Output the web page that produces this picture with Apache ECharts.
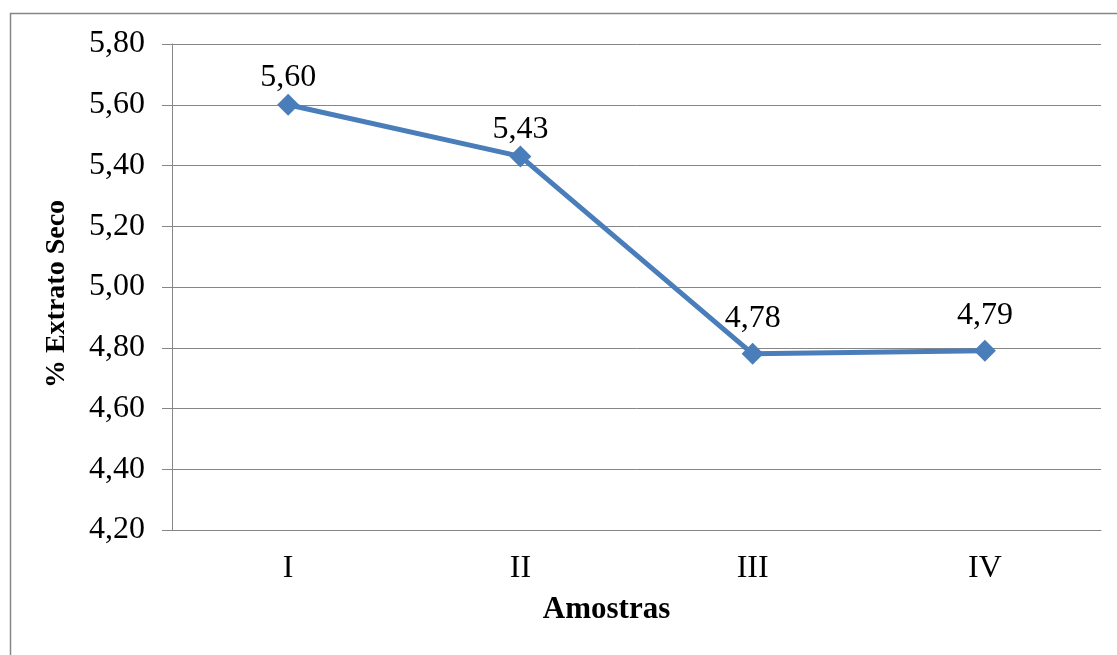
<!DOCTYPE html>
<html>
<head>
<meta charset="utf-8">
<script src="https://cdn.jsdelivr.net/npm/echarts@6/dist/echarts.min.js"></script>
<style>
  html, body { margin: 0; padding: 0; background: #fff; }
  #chart { width: 1117px; height: 655px; }
</style>
</head>
<body>
<div id="chart"></div>
<script>
// Samples and their dry extract percentage
const categories = ['I', 'II', 'III', 'IV'];
const extratoSeco = [5.60, 5.43, 4.78, 4.79];
const yMin = 4.2, yMax = 5.8, yStep = 0.2;

const fmt = v => Number(v).toFixed(2).replace('.', ',');
const serif = '"Liberation Serif", "Times New Roman", serif';
const lineBlue = '#4A7EBB';
const gray = '#868686';

// lower points get their labels lifted a little more above the line
const points = extratoSeco.map((v, i) => ({
  value: v,
  label: { distance: i >= 2 ? 8 : 0 }
}));

const chart = echarts.init(document.getElementById('chart'));
chart.setOption({
  animation: false,
  backgroundColor: '#fff',
  graphic: [{
    type: 'rect',
    shape: { x: 10.5, y: 13.5, width: 1200, height: 700 },
    style: { fill: 'none', stroke: gray, lineWidth: 1.5 },
    silent: true
  }],
  grid: { left: 172, right: 16, top: 44, bottom: 125 },
  xAxis: {
    type: 'category',
    data: categories,
    boundaryGap: true,
    name: 'Amostras',
    nameLocation: 'middle',
    nameGap: 64,
    nameTextStyle: {
      fontFamily: serif, fontSize: 31, fontWeight: 'bold', color: '#000',
      padding: [0, 60, 0, 0]
    },
    axisLine: { show: true, lineStyle: { color: gray, width: 1 } },
    axisTick: { show: false },
    axisLabel: { fontFamily: serif, fontSize: 32, color: '#000', margin: 23 }
  },
  yAxis: {
    type: 'value',
    min: yMin, max: yMax, interval: yStep,
    name: '% Extrato Seco',
    nameLocation: 'middle',
    nameGap: 101,
    nameTextStyle: {
      fontFamily: serif, fontSize: 28, fontWeight: 'bold', color: '#000',
      padding: [0, 14, 0, 0]
    },
    axisLine: { show: true, lineStyle: { color: gray, width: 1 } },
    axisTick: { show: true, length: 10, lineStyle: { color: gray, width: 1 } },
    axisLabel: { fontFamily: serif, fontSize: 32, color: '#000', margin: 27, formatter: fmt },
    splitLine: { show: true, lineStyle: { color: gray, width: 1 } }
  },
  series: [{
    type: 'line',
    data: points,
    symbol: 'diamond',
    symbolSize: 22,
    lineStyle: { color: lineBlue, width: 5 },
    itemStyle: { color: lineBlue },
    label: {
      show: true,
      position: 'top',
      distance: 0,
      fontFamily: serif,
      fontSize: 32,
      color: '#000',
      formatter: p => fmt(p.value)
    }
  }]
});
</script>
</body>
</html>
